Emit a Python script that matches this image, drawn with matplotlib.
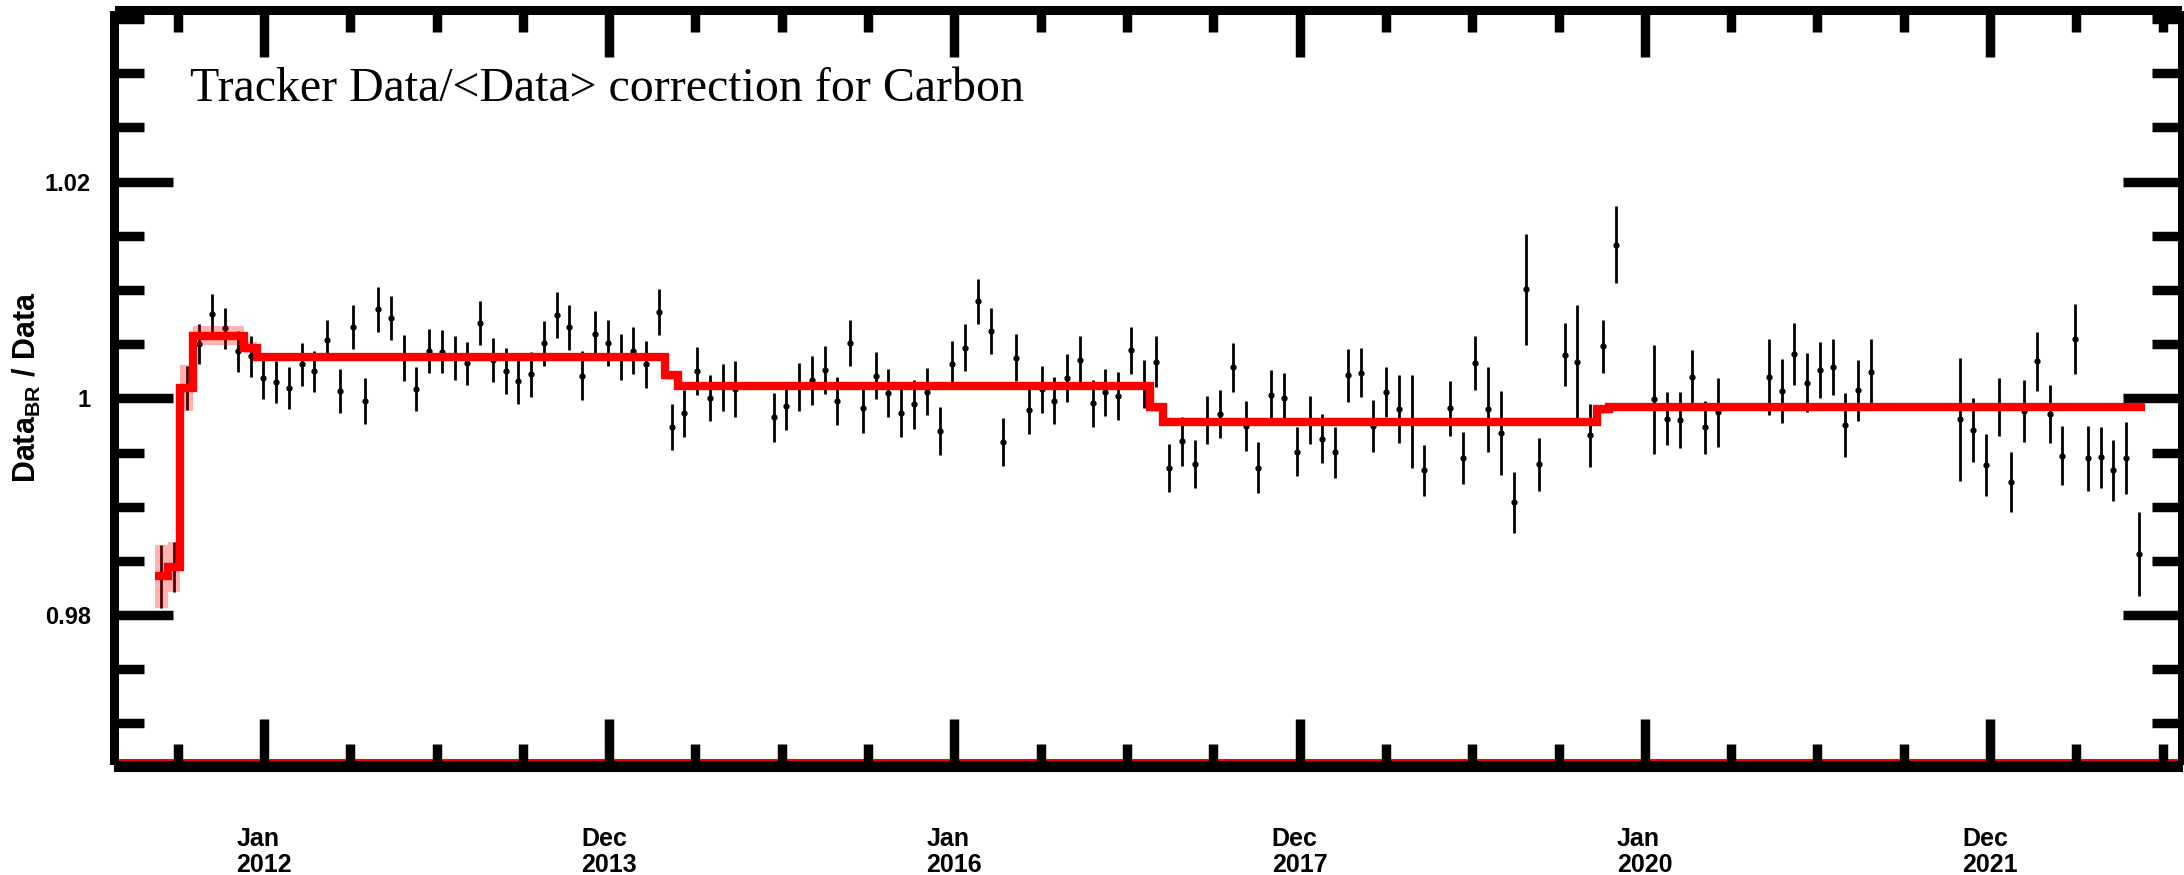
import numpy as np
import matplotlib
matplotlib.use('Agg')
import matplotlib.pyplot as plt
from matplotlib.ticker import MultipleLocator, FixedLocator, FuncFormatter

plt.rcParams['font.family'] = ['Liberation Sans', 'DejaVu Sans']
plt.rcParams['mathtext.fontset'] = 'custom'
plt.rcParams['mathtext.rm'] = 'Liberation Sans'
plt.rcParams['mathtext.bf'] = 'Liberation Sans:bold'

nan = np.nan

# one entry per Bartels rotation, first one is BR 2426 (starts 15 May 2011)
br_first = 2426
br_first_start = np.datetime64('2011-05-15')
time_zero = np.datetime64('2012-01-01')
br_days = 27

ratio = [
    0.98357, 0.98443, 1.00098, 1.00504, 1.00778, 1.00646, 1.00433, 1.00390, 1.00187, 1.00150,
    1.00098, 1.00314, 1.00249, 1.00538, 1.00064, 1.00658, 0.99978, 1.00821, 1.00741, 1.00372,
    1.00086, 1.00437, 1.00430, 1.00375, 1.00323, 1.00695, 1.00353, 1.00252, 1.00156, 1.00221,
    1.00507, 1.00772, 1.00658, 1.00209, 1.00596, 1.00513, 1.00384, 1.00440, 1.00313, 1.00797,
    0.99735, 0.99861, 1.00252, 1.00006, 1.00101, 1.00086, nan, nan, 0.99824, 0.99926,
    1.00107, 1.00166, 1.00264, 0.99975, 1.00513, 0.99908, 1.00209, 1.00046, 0.99864, 0.99944,
    1.00061, 0.99698, 1.00313, 1.00467, 1.00895, 1.00621, 0.99598, 1.00375, 0.99892, 1.00083,
    0.99978, 1.00190, 1.00353, 0.99953, 1.00055, 1.00018, 1.00443, 1.00132, 1.00338, 0.99356,
    0.99606, 0.99391, 0.99800, 0.99855, 1.00286, 0.99747, 0.99360, 1.00030, 1.00000, 0.99505,
    0.99800, 0.99627, 0.99502, 1.00212, 1.00237, 0.99744, 1.00055, 0.99901, 0.99790, 0.99335,
    nan, 0.99908, 0.99452, 1.00323, 0.99901, 0.99683, 0.99039, 1.01006, 0.99391, nan,
    1.00403, 1.00332, 0.99658, 1.00480, 1.01418, nan, nan, 0.99990, 0.99812, 0.99797,
    1.00200, 0.99735, 0.99870, nan, nan, nan, 1.00194, 1.00067, 1.00409, 1.00144,
    1.00261, 1.00289, 0.99757, 1.00073, 1.00246, nan, nan, nan, nan, nan,
    nan, 0.99806, 0.99708, 0.99382, 0.99923, 0.99228, 0.99883, 1.00344, 0.99852, 0.99471,
    1.00548, 0.99446, 0.99455, 0.99335, 0.99446, 0.98563,
]

ratio_err = [
    0.00289, 0.00228, 0.00205, 0.00186, 0.00183, 0.00191, 0.00192, 0.00189, 0.00189, 0.00192,
    0.00192, 0.00200, 0.00191, 0.00188, 0.00203, 0.00202, 0.00211, 0.00205, 0.00202, 0.00211,
    0.00206, 0.00200, 0.00200, 0.00203, 0.00200, 0.00202, 0.00203, 0.00212, 0.00206, 0.00211,
    0.00206, 0.00212, 0.00208, 0.00225, 0.00208, 0.00211, 0.00211, 0.00214, 0.00215, 0.00212,
    0.00215, 0.00218, 0.00218, 0.00212, 0.00214, 0.00260, nan, nan, 0.00223, 0.00218,
    0.00220, 0.00223, 0.00222, 0.00223, 0.00211, 0.00225, 0.00215, 0.00222, 0.00222, 0.00223,
    0.00218, 0.00220, 0.00220, 0.00217, 0.00209, 0.00211, 0.00222, 0.00217, 0.00220, 0.00217,
    0.00217, 0.00222, 0.00220, 0.00220, 0.00218, 0.00222, 0.00215, 0.00220, 0.00234, 0.00223,
    0.00226, 0.00223, 0.00223, 0.00223, 0.00229, 0.00232, 0.00234, 0.00229, 0.00231, 0.00226,
    0.00226, 0.00228, 0.00237, 0.00245, 0.00225, 0.00237, 0.00231, 0.00315, 0.00429, 0.00234,
    nan, 0.00252, 0.00240, 0.00249, 0.00392, 0.00389, 0.00280, 0.00511, 0.00242, nan,
    0.00288, 0.00526, 0.00294, 0.00246, 0.00357, nan, nan, 0.00503, 0.00243, 0.00258,
    0.00249, 0.00245, 0.00317, nan, nan, nan, 0.00351, 0.00294, 0.00288, 0.00274,
    0.00255, 0.00258, 0.00295, 0.00282, 0.00298, nan, nan, nan, nan, nan,
    nan, 0.00565, 0.00291, 0.00285, 0.00269, 0.00277, 0.00288, 0.00272, 0.00268, 0.00275,
    0.00325, 0.00298, 0.00285, 0.00282, 0.00332, 0.00391,
]

# correction (red step): first BR of each constant piece, value and error
corr_first_br = [2426, 2427, 2428, 2429, 2433, 2434, 2466, 2467, 2504, 2505, 2539, 2540]
corr_last_br = 2581
corr_value = [0.98357, 0.98443, 1.00094, 1.00578, 1.00467, 1.00386,
              1.00212, 1.00117, 0.99917, 0.99779, 0.99898, 0.99917]
corr_err = [0.0029, 0.0023, 0.0021, 0.0009, 0.0005, 0.0002,
            0.0004, 0.0002, 0.0004, 0.0002, 0.0004, 0.0002]

tick_days = [0, 730.5, 1461, 2191.5, 2922, 3652.5]
tick_labels = ['Jan\n2012', 'Dec\n2013', 'Jan\n2016', 'Dec\n2017', 'Jan\n2020', 'Dec\n2021']

title = 'Tracker Data/<Data> correction for Carbon'


def br_start_day(br):
    # days since time_zero at which rotation br begins
    t = br_first_start + (np.asarray(br) - br_first) * np.timedelta64(br_days, 'D')
    return (t - time_zero).astype(float)


br = br_first + np.arange(len(ratio))
x_pts = br_start_day(br) + br_days / 2
ratio = np.array(ratio)
ratio_err = np.array(ratio_err)
ok = ~np.isnan(ratio)

edges = br_start_day(corr_first_br + [corr_last_br + 1])
corr_value = np.array(corr_value)
corr_err = np.array(corr_err)

#%% plot
fig = plt.figure(figsize=(21.84, 8.75), dpi=100)
ax = fig.add_axes([119 / 2184, 115 / 875, (2177 - 119) / 2184, (760 - 15) / 875])

ax.errorbar(x_pts[ok], ratio[ok], yerr=ratio_err[ok], fmt='o', color='k',
            markersize=3.5, elinewidth=2.0, capsize=0, zorder=2)
ax.stairs(corr_value + corr_err, edges, baseline=corr_value - corr_err, fill=True,
          color='red', alpha=0.3, linewidth=0, zorder=3)
ax.stairs(corr_value, edges, baseline=None, color='red', linewidth=6, zorder=4)

ylo, yhi = 0.96662, 1.03538
ax.set_xlim(-306.8, 4048.2)
ax.set_ylim(ylo, yhi)
ax.axhline(ylo, color='red', linewidth=1.5, clip_on=False, zorder=1)

ax.text(0.0345, 0.885, title, transform=ax.transAxes, family='Liberation Serif',
        fontsize=34.5, va='baseline', ha='left')

ax.set_ylabel(r'Data$_{\mathbf{BR}}$ / Data', fontsize=22, fontweight='bold', va='center')
ax.yaxis.set_label_coords(-0.0447, 0.5)

# frame
for side, lw in [('left', 6.5), ('right', 6.5), ('top', 6.5), ('bottom', 8)]:
    sp = ax.spines[side]
    sp.set_linewidth(lw)
    sp.set_position(('outward', lw / 2))
    sp.set_capstyle('projecting')

ax.yaxis.set_major_locator(MultipleLocator(0.02))
ax.yaxis.set_minor_locator(MultipleLocator(0.005))
ax.yaxis.set_major_formatter(FuncFormatter(lambda v, p: '%g' % round(v, 4)))
ax.xaxis.set_major_locator(FixedLocator(tick_days))
ax.xaxis.set_minor_locator(MultipleLocator(tick_days[1] / 4))
ax.set_xticklabels(tick_labels)

ax.tick_params(axis='y', which='both', direction='in', left=True, right=True, width=6.8,
               labelsize=17, pad=17)
ax.tick_params(axis='y', which='major', length=42.3)
ax.tick_params(axis='y', which='minor', length=21.5)
ax.tick_params(axis='x', which='both', direction='in', bottom=True, top=True, width=6.8,
               labelsize=18, pad=44)
ax.tick_params(axis='x', which='major', length=33.5)
ax.tick_params(axis='x', which='minor', length=16)

for lab in ax.get_yticklabels():
    lab.set_fontweight('bold')
for lab in ax.get_xticklabels():
    lab.set_fontweight('bold')
    lab.set_multialignment('left')
    lab.set_linespacing(1.1)

fig.savefig('out.png', dpi=100)
